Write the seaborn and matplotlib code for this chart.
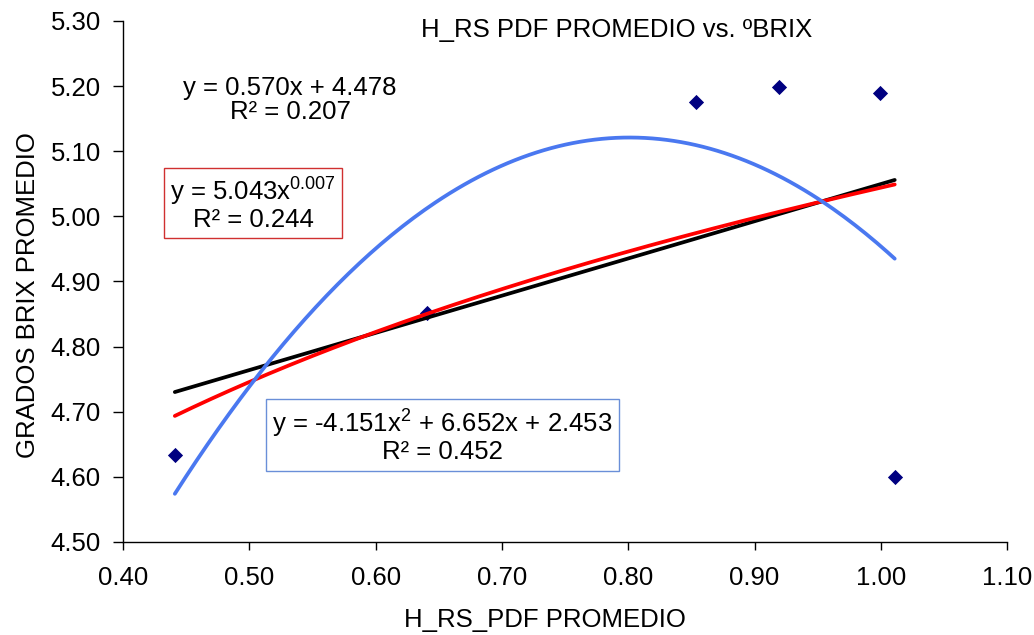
import numpy as np
import pandas as pd
import matplotlib
matplotlib.use("Agg")
import matplotlib.pyplot as plt
import seaborn as sns

# Measurements: average H_RS_PDF against average Brix degrees
h_rs_pdf = [0.441, 0.641, 0.854, 0.919, 0.999, 1.011]
grados_brix = [4.633, 4.852, 5.176, 5.199, 5.189, 4.600]

x_ticks = [0.40, 0.50, 0.60, 0.70, 0.80, 0.90, 1.00, 1.10]
y_ticks = [4.50, 4.60, 4.70, 4.80, 4.90, 5.00, 5.10, 5.20, 5.30]

title = "H_RS PDF PROMEDIO vs. ºBRIX"
x_label = "H_RS_PDF PROMEDIO"
y_label = "GRADOS BRIX PROMEDIO"

eq_linear = "y = 0.570x + 4.478\nR² = 0.207"
eq_power = "y = 5.043x$^{0.007}$\nR² = 0.244"
eq_poly = "y = -4.151x$^{2}$ + 6.652x + 2.453\nR² = 0.452"

FS = 18.5

sns.set_theme(style="white")
plt.rcParams["font.family"] = ["Liberation Sans", "DejaVu Sans"]
plt.rcParams["mathtext.fontset"] = "custom"
plt.rcParams["mathtext.rm"] = "Liberation Sans"
plt.rcParams["mathtext.it"] = "Liberation Sans"
plt.rcParams["text.color"] = "black"
plt.rcParams["axes.labelcolor"] = "black"
plt.rcParams["xtick.color"] = "black"
plt.rcParams["ytick.color"] = "black"

df = pd.DataFrame({"x": h_rs_pdf, "y": grados_brix})
x = np.asarray(h_rs_pdf)
y = np.asarray(grados_brix)

# Trend lines fitted over the data range
xs = np.linspace(x.min(), x.max(), 200)
lin = np.polyfit(x, y, 1)
quad = np.polyfit(x, y, 2)
pw = np.polyfit(np.log(x), np.log(y), 1)
trend = pd.DataFrame({
    "x": xs,
    "lineal": np.polyval(lin, xs),
    "potencial": np.exp(pw[1]) * xs ** pw[0],
    "polinomica": np.polyval(quad, xs),
})

fig = plt.figure(figsize=(10.34, 6.35), dpi=100)
ax = fig.add_axes([0.119, 0.1465, 0.855, 0.8205])

sns.scatterplot(data=df, x="x", y="y", marker="D", s=60, color="#000080",
                edgecolor="#000080", linewidth=0, ax=ax, zorder=2)
sns.lineplot(data=trend, x="x", y="lineal", color="black", lw=2.7, ax=ax, zorder=3)
sns.lineplot(data=trend, x="x", y="potencial", color="#ff0000", lw=2.7, ax=ax, zorder=4)
sns.lineplot(data=trend, x="x", y="polinomica", color="#4a78f0", lw=2.7, ax=ax, zorder=5)

ax.set_xlim(0.40, 1.10)
ax.set_ylim(4.50, 5.30)
ax.set_xticks(x_ticks)
ax.set_yticks(y_ticks)
ax.set_xticklabels([f"{t:.2f}" for t in x_ticks], fontsize=FS)
ax.set_yticklabels([f"{t:.2f}" for t in y_ticks], fontsize=FS)
ax.tick_params(axis="x", direction="out", length=6, width=1, color="black",
               labelcolor="black", bottom=True, pad=11)
ax.tick_params(axis="y", direction="out", length=7, width=1, color="black",
               labelcolor="black", left=True, pad=9)
for side in ["top", "right"]:
    ax.spines[side].set_visible(False)
for side in ["left", "bottom"]:
    ax.spines[side].set_color("black")
    ax.spines[side].set_linewidth(1)

ax.set_xlabel(x_label, fontsize=FS, va="center", color="black")
ax.xaxis.set_label_coords(0.477, -0.150)
ax.set_ylabel(y_label, fontsize=FS, va="center", color="black")
ax.yaxis.set_label_coords(-0.108, 0.474)
ax.set_title(title, fontsize=FS, x=0.558, y=0.983, va="center", pad=0,
             color="black")

ax.text(0.189, 0.848, eq_linear, transform=ax.transAxes, ha="center", va="center",
        fontsize=FS, linespacing=1.0, color="black")
ax.text(0.147, 0.649, eq_power, transform=ax.transAxes, ha="center", va="center",
        fontsize=FS, linespacing=1.0, zorder=6, color="black",
        bbox=dict(boxstyle="square,pad=0.22", fc="white", ec="#d03030", lw=1))
ax.text(0.361, 0.203, eq_poly, transform=ax.transAxes, ha="center", va="center",
        fontsize=FS, linespacing=1.0, zorder=6, color="black",
        bbox=dict(boxstyle="square,pad=0.25", fc="white", ec="#6a8fd8", lw=1))

fig.savefig("out.png", dpi=100, facecolor="white")
